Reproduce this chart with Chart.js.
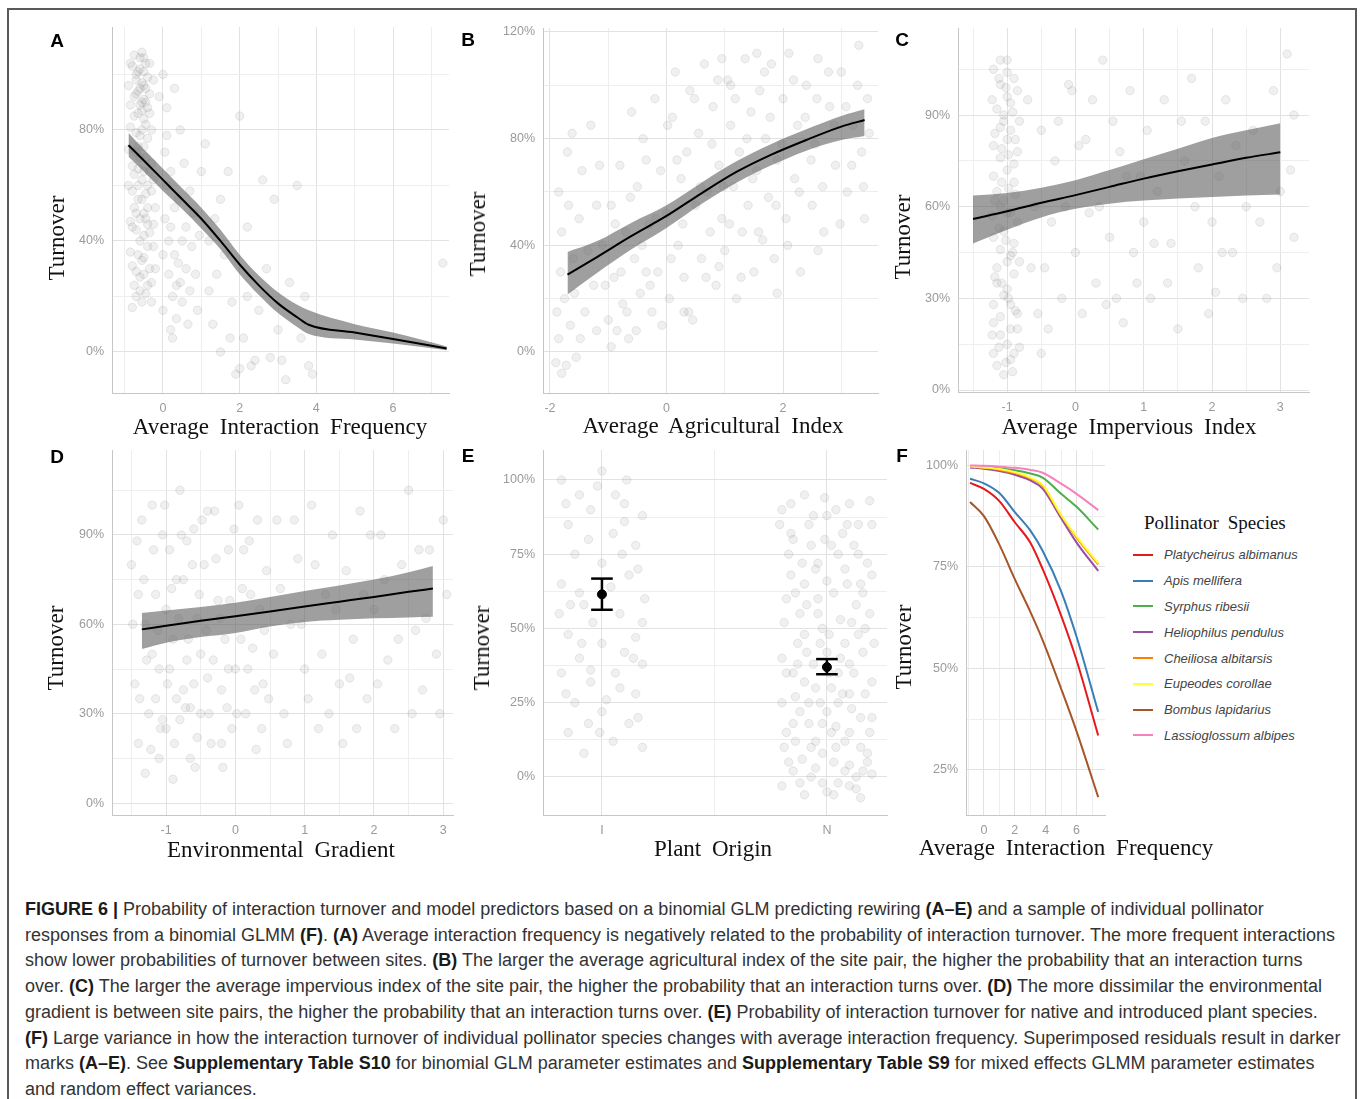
<!DOCTYPE html>
<html>
<head>
<meta charset="utf-8">
<script src="https://cdn.jsdelivr.net/npm/chart.js@4"></script>
<style>
  html, body { margin: 0; padding: 0; background: #fff; }
  body { width: 1360px; height: 1099px; position: relative; overflow: hidden; font-family: "Liberation Sans", Arial, sans-serif; }
  #frame { position: absolute; left: 7px; top: 8px; width: 1346px; height: 1110px; border: 2px solid #5a5a5a; }
  canvas { position: absolute; }
  .lbl { position: absolute; transform: translate(-50%, -50%); white-space: nowrap; }
  .letter { font-family: "Liberation Sans", Arial, sans-serif; font-weight: bold; font-size: 19px; color: #000; }
  .xt { font-family: "Liberation Serif", "Times New Roman", serif; font-size: 23px; color: #111; word-spacing: 5px; }
  .yt { font-family: "Liberation Serif", "Times New Roman", serif; font-size: 23px; color: #111; transform: translate(-50%, -50%) rotate(-90deg); }
  #legendF { position: absolute; left: 1128px; top: 512px; }
  #legendF .ttl { font-family: "Liberation Serif", serif; font-size: 19px; color: #111; word-spacing: 4px; margin-left: 16px; height: 30px; }
  #legendF .row { height: 25.8px; display: flex; align-items: center; }
  #legendF .sw { width: 20px; height: 2px; margin-left: 5px; margin-right: 11px; }
  #legendF .nm { font-style: italic; font-size: 13px; color: #444; }
  #caption { position: absolute; left: 25px; top: 897px; color: #333; line-height: 25.7px; font-size: 16.5px; }
  #caption div { white-space: nowrap; }
  #caption b { color: #1a1a1a; }
</style>
</head>
<body>
<div id="frame"></div>

<canvas id="cA"></canvas>
<canvas id="cB"></canvas>
<canvas id="cC"></canvas>
<canvas id="cD"></canvas>
<canvas id="cE"></canvas>
<canvas id="cF"></canvas>

<div class="lbl letter" style="left:57px;top:41px">A</div>
<div class="lbl letter" style="left:468px;top:40px">B</div>
<div class="lbl letter" style="left:902px;top:40px">C</div>
<div class="lbl letter" style="left:57px;top:457px">D</div>
<div class="lbl letter" style="left:468px;top:456px">E</div>
<div class="lbl letter" style="left:902px;top:456px">F</div>

<div class="lbl yt" style="left:57px;top:238px">Turnover</div>
<div class="lbl yt" style="left:478px;top:234px">Turnover</div>
<div class="lbl yt" style="left:903px;top:237px">Turnover</div>
<div class="lbl yt" style="left:56px;top:648px">Turnover</div>
<div class="lbl yt" style="left:482px;top:648px">Turnover</div>
<div class="lbl yt" style="left:904px;top:647px">Turnover</div>

<div class="lbl xt" style="left:280px;top:427px">Average Interaction Frequency</div>
<div class="lbl xt" style="left:713px;top:426px">Average Agricultural Index</div>
<div class="lbl xt" style="left:1129px;top:427px">Average Impervious Index</div>
<div class="lbl xt" style="left:281px;top:850px">Environmental Gradient</div>
<div class="lbl xt" style="left:713px;top:849px">Plant Origin</div>
<div class="lbl xt" style="left:1066px;top:848px">Average Interaction Frequency</div>

<div id="legendF"></div>

<div id="caption">
  <div><b>FIGURE 6 |</b> Probability of interaction turnover and model predictors based on a binomial GLM predicting rewiring <b>(A–E)</b> and a sample of individual pollinator</div>
  <div id="capLine2">responses from a binomial GLMM <b>(F)</b>. <b>(A)</b> Average interaction frequency is negatively related to the probability of interaction turnover. The more frequent interactions</div>
  <div>show lower probabilities of turnover between sites. <b>(B)</b> The larger the average agricultural index of the site pair, the higher the probability that an interaction turns</div>
  <div>over. <b>(C)</b> The larger the average impervious index of the site pair, the higher the probability that an interaction turns over. <b>(D)</b> The more dissimilar the environmental</div>
  <div>gradient is between site pairs, the higher the probability that an interaction turns over. <b>(E)</b> Probability of interaction turnover for native and introduced plant species.</div>
  <div><b>(F)</b> Large variance in how the interaction turnover of individual pollinator species changes with average interaction frequency. Superimposed residuals result in darker</div>
  <div>marks <b>(A–E)</b>. See <b>Supplementary Table S10</b> for binomial GLM parameter estimates and <b>Supplementary Table S9</b> for mixed effects GLMM parameter estimates</div>
  <div>and random effect variances.</div>
</div>

<script>
// ---- Panel A: average interaction frequency ----
const aFitX = [-0.9, -0.5, 0, 0.5, 1, 1.5, 2, 2.5, 3, 3.5, 3.8, 5, 6, 7.4];
const aFitY = [74.5, 69, 62, 55, 48, 40, 31.5, 24, 17.5, 12.5, 9.8, 7, 4.7, 1.2];
const aFitLo = [70.3, 65, 58, 51.5, 44.5, 37, 28, 20.5, 14, 9, 6.5, 4.5, 3, 0.6];
const aFitHi = [79, 73, 66, 59, 52, 44, 35, 27.5, 21.5, 17, 15, 10, 7, 2];
const aResid = [
  [-0.8,103],[-0.7,98],[-0.6,106],[-0.5,101],[-0.45,95],[-0.55,90],[-0.65,86],[-0.75,92],[-0.4,88],[-0.5,84],
  [-0.6,78],[-0.7,72],[-0.45,70],[-0.35,65],[-0.55,62],[-0.8,58],[-0.65,55],[-0.5,50],[-0.4,46],[-0.7,44],
  [-0.6,40],[-0.85,36],[-0.5,34],[-0.35,30],[-0.6,27],[-0.75,24],[-0.45,21],[-0.55,18],[-0.3,25],[-0.25,38],
  [-0.2,52],[-0.3,80],[-0.35,104],[-0.9,96],[-0.85,81],[-0.55,108],[-0.4,99],[-0.5,74],[-0.65,66],[-0.7,50],
  [-0.45,57],[-0.8,31],[-0.6,95],[-0.5,91],[-0.7,100],[-0.35,86],[-0.6,48],[-0.5,42],[-0.4,38],[-0.75,64],
  [-0.55,97],[-0.45,104],[-0.65,101],[-0.75,85],[-0.4,77],[-0.6,70],[-0.8,45],[-0.3,58],[-0.55,33],[-0.7,20],
  [-0.85,104],[-0.75,107],[-0.65,94],[-0.55,87],[-0.45,82],[-0.35,93],[-0.25,98],[-0.85,89],[-0.7,79],[-0.6,89],
  [-0.5,96],[-0.4,60],[-0.3,68],[-0.8,67],[-0.9,73],[-0.65,74],[-0.55,55],[-0.45,48],[-0.35,43],[-0.25,46],
  [-0.75,52],[-0.85,47],[-0.65,35],[-0.5,28],[-0.4,24],[-0.3,18],[-0.8,16],[-0.7,29],[-0.6,22],[-0.2,30],
  [-0.25,62],[-0.9,60],[-0.6,102],[-0.5,106],[-0.7,93],[-0.45,90],[-0.55,80],[-0.65,60],[-0.5,65],[-0.4,52],
  [0.05,72],[0.1,60],[0.2,45],[0.3,35],[0.15,28],[0.25,20],[0.4,55],[0.5,40],[0.6,30],[0.35,12],
  [0.7,22],[0.8,50],[0.9,15],[0.1,88],[0.3,95],[0.55,68],[0.0,15],[0.2,8],[0.75,38],[0.45,25],
  [-0.1,92],[0.0,100],[0.1,78],[0.2,65],[0.3,52],[0.15,40],[0.4,32],[0.5,18],[0.6,45],[0.7,58],
  [0.85,28],[0.95,42],[0.0,35],[0.25,5],[0.65,10],[0.45,80],[0.05,48],[0.35,24],
  [1.1,75],[1.2,40],[1.4,28],[1.5,55],[1.7,65],[1.8,18],[2.0,85],[2.1,5],[2.3,-5],[2.5,15],
  [2.6,62],[2.8,-2],[1.3,10],[2.2,45],[1.9,-8],[2.7,30],[2.4,-3],[3.0,8],
  [1.0,65],[1.2,22],[1.35,48],[1.6,35],[1.75,5],[2.2,20],[2.9,55],[3.1,-3],[2.0,-6],[1.5,0],
  [3.2,-10],[3.3,25],[3.5,60],[3.7,20],[3.8,-5],[3.9,-8],[3.6,5],[7.3,32]
];
const aXGrid = [-1, 0, 1, 2, 3, 4, 5, 6, 7];
const aXLabels = [0, 2, 4, 6];
const aYGrid = [0, 20, 40, 60, 80, 100];
const aYLabels = [0, 40, 80];

// ---- Panel B: average agricultural index ----
const bFitX = [-1.7, -1.2, -0.6, 0, 0.6, 1.2, 1.8, 2.4, 3, 3.4];
const bFitY = [29, 35.5, 43.5, 51, 59.5, 67.5, 74, 79.5, 84.5, 87];
const bFitLo = [21.5, 29.5, 38.5, 46.5, 55.5, 63.5, 70, 75.5, 79.5, 81];
const bFitHi = [37.5, 41.5, 48.5, 55, 63.5, 71.5, 78, 83.5, 88.5, 91];
const bResid = [
  [-1.9,-4],[-1.85,5],[-1.8,-8],[-1.75,20],[-1.8,45],[-1.85,60],[-1.7,75],[-1.65,10],[-1.6,35],[-1.55,-2],
  [-1.5,50],[-1.45,68],[-1.4,15],[-1.3,85],[-1.25,25],[-1.1,40],[-1.0,12],[-0.95,55],[-0.9,28],[-0.85,8],
  [-0.8,70],[-0.75,18],[-0.7,45],[-0.6,90],[-0.55,35],[-0.5,62],[-0.45,22],[-0.4,80],[-0.3,48],[-0.25,15],
  [-0.2,95],[-0.15,30],[-0.1,68],[0.0,52],[0.05,20],[0.1,88],[0.15,105],[0.2,40],[0.25,65],[0.3,28],
  [0.35,75],[0.4,98],[0.45,12],[0.5,55],[0.55,82],[0.6,35],[0.65,108],[0.7,60],[0.75,45],[0.8,92],
  [0.85,25],[0.9,70],[0.95,50],[1.0,38],[1.05,102],[1.1,85],[1.15,62],[1.2,20],[1.25,75],[1.3,45],
  [1.35,110],[1.4,55],[1.45,90],[1.5,30],[1.55,68],[1.6,98],[1.65,42],[1.7,80],[1.75,58],[1.8,108],
  [1.85,35],[1.9,72],[2.0,95],[2.05,50],[2.1,112],[2.2,65],[2.25,85],[2.3,30],[2.4,100],[2.5,55],
  [2.55,78],[2.6,110],[2.7,45],[2.8,92],[2.9,70],[3.0,105],[3.1,60],[3.2,85],[3.3,115],[3.35,75],
  [3.4,50],[3.45,95],[-1.2,55],[-0.65,5],[0.3,15],[0.9,32],[1.1,100],[1.9,22],[2.6,38],[-0.35,30],
  [-1.88,15],[-1.82,30],[-1.72,-5],[-1.68,55],[-1.62,82],[-1.58,22],[-1.48,5],[-1.35,38],[-1.2,8],[-1.15,70],
  [-1.05,25],[-0.95,2],[-0.88,48],[-0.78,30],[-0.68,15],[-0.62,58],[-0.52,8],[-0.42,40],[-0.35,72],[-0.28,25],
  [-0.18,50],[-0.08,10],[0.02,85],[0.08,35],[0.18,72],[0.28,48],[0.38,15],[0.48,95],[0.58,62],[0.68,28],
  [0.78,78],[0.88,102],[0.98,62],[1.08,48],[1.18,95],[1.28,28],[1.38,80],[1.48,65],[1.58,45],[1.68,105],
  [1.78,88],[1.88,55],[1.98,78],[2.08,40],[2.18,102],[2.28,60],[2.38,88],[2.48,72],[2.58,95],[2.68,62],
  [2.78,105],[2.88,85],[2.98,48],[3.08,92],[3.18,70],[3.28,100],[3.38,62],[3.48,82],[0.95,110],[1.55,112]
];
const bXGrid = [-2, -1, 0, 1, 2, 3];
const bXLabels = [-2, 0, 2];
const bYGrid = [0, 20, 40, 60, 80, 100, 120];
const bYLabels = [0, 40, 80, 120];

// ---- Panel C: average impervious index ----
const cFitX = [-1.5, -1, -0.5, 0, 0.5, 1, 1.5, 2, 2.5, 3];
const cFitY = [56, 58.5, 61.3, 63.8, 66.5, 69.2, 71.6, 73.8, 76, 77.8];
const cFitLo = [48, 52.5, 56.5, 59.3, 61, 62, 62.7, 63.2, 63.7, 64];
const cFitHi = [63.7, 64.5, 66.2, 68.7, 72, 75.5, 79, 82.5, 85, 87.3];
const cResid = [
  [-1.2,105],[-1.1,100],[-1.0,96],[-0.9,102],[-1.15,92],[-1.05,88],[-0.95,85],[-0.85,98],[-1.2,80],[-1.1,76],
  [-1.0,72],[-0.9,68],[-1.15,65],[-1.05,62],[-0.95,58],[-0.85,55],[-1.2,50],[-1.1,46],[-1.0,42],[-0.9,38],
  [-1.15,35],[-1.05,31],[-0.95,28],[-0.85,25],[-1.2,22],[-1.1,18],[-1.0,15],[-0.9,12],[-1.15,8],[-1.05,5],
  [-0.95,94],[-1.0,82],[-0.85,78],[-1.2,70],[-1.1,60],[-0.9,48],[-1.0,33],[-0.85,20],[-1.15,40],[-0.95,10],
  [-1.05,90],[-1.2,28],[-1.0,104],[-1.1,86],[-0.9,74],[-1.05,52],[-0.95,44],[-1.1,24],[-1.0,58],[-1.2,12],
  [-1.22,95],[-1.12,102],[-1.02,99],[-0.92,91],[-0.82,88],[-1.18,84],[-1.08,79],[-0.98,77],[-0.88,64],[-1.22,57],
  [-1.12,53],[-1.02,49],[-0.92,45],[-0.82,42],[-1.18,37],[-1.08,35],[-0.98,30],[-0.88,26],[-1.22,18],[-1.12,14],
  [-1.02,9],[-0.92,6],[-0.82,14],[-1.18,62],[-1.08,68],[-0.98,66],[-0.88,82],[-1.0,108],[-1.1,108],[-0.95,20],
  [-0.7,95],[-0.6,60],[-0.5,85],[-0.45,40],[-0.4,20],[-0.5,12],[-0.3,75],[-0.2,30],[-0.1,100],[0.0,45],
  [-0.05,98],[0.1,25],[0.15,82],[0.2,58],[0.3,35],[0.4,108],[0.5,50],[0.55,88],[0.6,30],[0.7,22],
  [0.75,70],[0.8,98],[0.85,45],[0.9,35],[1.0,55],[1.05,85],[1.1,30],[1.2,65],[1.3,95],[1.4,48],
  [1.5,20],[1.6,75],[1.7,102],[1.8,40],[1.9,88],[2.0,55],[2.05,32],[2.1,70],[2.2,95],[2.3,45],
  [2.5,60],[2.6,85],[2.8,30],[2.9,98],[3.0,65],[3.1,110],[3.15,72],[3.2,50],
  [-0.65,40],[-0.55,25],[-0.35,55],[-0.25,88],[-0.15,60],[0.05,80],[0.25,95],[0.35,60],[0.45,28],[0.65,78],
  [0.95,70],[1.15,48],[1.35,35],[1.55,88],[1.75,60],[1.95,25],[2.15,45],[2.35,80],[2.45,30],[2.7,55],
  [2.95,40],[3.2,90]
];
const cXGrid = [-1.5, -1, -0.5, 0, 0.5, 1, 1.5, 2, 2.5, 3];
const cXLabels = [-1, 0, 1, 2, 3];
const cYGrid = [0, 15, 30, 45, 60, 75, 90, 105];
const cYLabels = [0, 30, 60, 90];

// ---- Panel D: environmental gradient ----
const dFitX = [-1.35, -1, -0.5, 0, 0.5, 1, 1.5, 2, 2.5, 2.85];
const dFitY = [58.3, 59.5, 61.2, 62.7, 64.3, 66, 67.6, 69.2, 70.9, 72];
const dFitLo = [51.7, 53.8, 55.7, 57.1, 59.3, 60.8, 61.5, 62, 62.3, 62.5];
const dFitHi = [63.8, 64.6, 65.8, 67.2, 69.2, 71.2, 73, 75, 77.5, 79.6];
const dResid = [
  [-1.5,80],[-1.45,40],[-1.4,20],[-1.35,95],[-1.3,60],[-1.25,30],[-1.2,100],[-1.15,70],[-1.1,45],[-1.05,90],
  [-1.0,25],[-0.95,85],[-0.9,55],[-0.85,35],[-0.8,105],[-0.75,75],[-0.7,48],[-0.65,15],[-0.6,92],[-0.55,62],
  [-0.5,30],[-0.45,80],[-0.4,42],[-0.35,20],[-0.3,98],[-0.25,68],[-0.2,38],[-0.15,55],[-0.1,85],[-0.05,25],
  [0.0,45],[0.05,100],[0.1,72],[0.15,30],[0.2,88],[0.25,52],[0.3,18],[0.35,65],[0.4,40],[0.45,78],
  [-1.3,10],[-1.1,15],[-0.9,8],[-1.2,50],[-1.0,65],[-0.8,28],[-0.6,40],[-0.4,98],[-0.5,50],[-0.7,88],
  [-1.4,70],[-0.2,20],[-0.1,45],[-1.15,35],[-0.85,75],[-1.05,28],[-0.75,38],[-0.95,45],[-0.65,32],[-0.55,22],
  [-1.48,60],[-1.42,88],[-1.38,35],[-1.32,75],[-1.28,48],[-1.22,18],[-1.18,85],[-1.12,58],[-1.08,25],[-1.02,100],
  [-0.98,40],[-0.92,72],[-0.88,20],[-0.82,62],[-0.78,90],[-0.72,32],[-0.68,55],[-0.62,80],[-0.58,12],[-0.52,70],
  [-0.48,95],[-0.42,58],[-0.38,30],[-0.32,48],[-0.28,82],[-0.22,62],[-0.18,12],[-0.12,32],[-0.08,68],[-0.02,92],
  [0.02,30],[0.08,55],[0.12,85],[0.18,45],[0.22,70],[0.28,38],[0.32,95],[0.38,25],[0.42,58],[0.48,35],
  [0.6,95],[0.7,30],[0.8,60],[0.9,82],[1.0,45],[1.1,100],[1.2,25],[1.3,70],[1.4,90],[1.5,40],
  [1.55,20],[1.6,78],[1.7,55],[1.8,98],[1.9,35],[2.0,65],[2.1,90],[2.2,48],[2.3,25],[2.4,80],
  [2.5,105],[2.6,58],[2.7,38],[2.8,85],[2.9,50],[3.0,95],
  [0.55,50],[0.65,72],[0.75,20],[0.85,95],[0.95,60],[1.05,35],[1.15,80],[1.25,50],[1.35,30],[1.45,65],
  [1.65,42],[1.75,25],[1.85,70],[1.95,90],[2.05,40],[2.15,75],[2.35,55],[2.55,30],[2.65,85],[2.75,62],
  [2.95,30],[3.05,70]
];
const dXGrid = [-1.5, -1, -0.5, 0, 0.5, 1, 1.5, 2, 2.5, 3];
const dXLabels = [-1, 0, 1, 2, 3];
const dYGrid = [0, 15, 30, 45, 60, 75, 90, 105];
const dYLabels = [0, 30, 60, 90];

// ---- Panel E: plant origin ----
const eCats = ['I', 'N'];
const eMean = [61.5, 37];
const eLow = [56.3, 34.6];
const eHigh = [66.8, 39.7];
const eResid = [
  [-0.18,100],[-0.1,95],[0.0,103],[0.1,92],[0.18,88],[-0.15,85],[-0.05,90],[0.05,82],[0.15,78],[-0.12,75],
  [0.0,72],[0.12,68],[-0.18,65],[-0.08,58],[0.08,55],[0.18,52],[-0.15,48],[0.0,45],[0.1,42],[-0.1,40],
  [0.18,38],[-0.18,35],[-0.05,32],[0.08,30],[0.15,28],[-0.12,25],[0.0,22],[0.12,18],[-0.15,15],[0.05,12],
  [-0.08,8],[0.18,10],[-0.02,98],[0.1,86],[-0.1,62],[0.15,47],[-0.05,36],[0.02,26],
  [-0.16,92],[-0.06,80],[0.06,95],[0.16,70],[-0.14,58],[-0.04,52],[0.04,64],[0.14,40],[-0.16,28],[-0.06,18],
  [0.06,35],[0.16,20],[-0.09,45],[0.09,75],[0.19,60],[-0.19,55],[-0.01,15],[0.11,100],
  [0.8,90],[0.85,80],[0.9,95],[0.95,70],[1.0,88],[1.05,75],[1.1,92],[1.15,65],[1.2,85],[0.82,60],
  [0.88,55],[0.93,78],[0.98,50],[1.03,62],[1.08,45],[1.13,58],[1.18,72],[0.8,40],[0.85,35],[0.9,48],
  [0.95,30],[1.0,42],[1.05,25],[1.1,38],[1.15,20],[1.2,32],[0.82,15],[0.88,22],[0.93,10],[0.98,18],
  [1.03,5],[1.08,12],[1.13,0],[1.18,8],[0.8,-3],[0.85,2],[0.9,-6],[0.95,3],[1.0,-5],[1.05,-2],
  [1.1,4],[1.15,-7],[1.2,1],[0.84,68],[0.92,85],[1.0,66],[1.07,82],[1.14,48],[0.86,27],[0.94,38],
  [1.02,30],[1.1,15],[1.17,28],[0.83,75],[0.91,58],[0.99,94],[1.06,53],[1.12,78],[1.19,55],[0.81,10],
  [0.89,6],[0.97,25],[1.04,17],[1.11,23],[1.16,42],[0.87,45],[0.96,60],[1.01,35],[1.09,65],[1.19,15],
  [0.79,85],[0.84,92],[0.89,72],[0.94,88],[0.99,80],[1.04,90],[1.09,85],[1.14,75],[1.19,93],[0.81,52],
  [0.86,62],[0.91,42],[0.96,55],[1.01,48],[1.06,40],[1.11,52],[1.16,62],[1.21,45],[0.8,25],[0.85,18],
  [0.9,32],[0.95,12],[1.0,22],[1.05,35],[1.1,28],[1.15,10],[1.2,20],[0.83,5],[0.88,-2],[0.93,0],
  [0.98,8],[1.03,-6],[1.08,2],[1.13,-4],[1.18,5],[0.82,35],[0.87,38],[0.92,25],[0.97,45],[1.02,15],
  [1.07,28],[1.12,35],[1.17,50],[0.84,82],[0.9,65],[0.96,72],[1.02,78],[1.08,70],[1.14,85],[1.2,68],
  [0.86,12],[0.92,18],[0.98,-2],[1.04,10],[1.1,-3],[1.16,2]
];
const eXGrid = [0, 0.5, 1];
const eXLabels = [0, 1];
const eYGrid = [0, 12.5, 25, 37.5, 50, 62.5, 75, 87.5, 100];
const eYLabels = [0, 25, 50, 75, 100];

// ---- Panel F: individual pollinator species ----
const fX = [-0.9, 0, 1, 2, 3, 3.8, 5, 6, 7.4];
const fSpecies = ['Platycheirus albimanus', 'Apis mellifera', 'Syrphus ribesii', 'Heliophilus pendulus',
  'Cheiliosa albitarsis', 'Eupeodes corollae', 'Bombus lapidarius', 'Lassioglossum albipes'];
const fColors = ['#E41A1C', '#377EB8', '#4DAF4A', '#984EA3', '#FF7F00', '#FFFF33', '#A65628', '#F781BF'];
const fPlatycheirus = [95.7, 94.2, 91.2, 86, 81, 74.5, 63, 52, 33.5];
const fApis = [96.7, 95.6, 93.2, 88.5, 84, 79, 69, 57.8, 39.3];
const fSyrphus = [99.8, 99.6, 99.3, 98.8, 98, 97, 93, 89.8, 84.2];
const fHeliophilus = [99.5, 99.2, 98.6, 97.7, 96.3, 94.3, 87, 81, 74];
const fCheiliosa = [99.7, 99.4, 98.9, 98.1, 96.8, 95, 87.6, 82.2, 75.6];
const fEupeodes = [99.8, 99.5, 99.1, 98.3, 97, 95.2, 87.8, 82.5, 75.9];
const fBombus = [91, 87.5, 80.5, 72, 64, 57, 45, 34.5, 18.3];
const fLassioglossum = [100, 99.9, 99.7, 99.4, 98.9, 98.2, 95.5, 93, 89];
const fSeries = [fPlatycheirus, fApis, fSyrphus, fHeliophilus, fCheiliosa, fEupeodes, fBombus, fLassioglossum];
const fXGrid = [-1, 0, 1, 2, 3, 4, 5, 6, 7];
const fXLabels = [0, 2, 4, 6];
const fYGrid = [25, 37.5, 50, 62.5, 75, 87.5, 100];
const fYLabels = [25, 50, 75, 100];

// layout constants shared by all panels
const Y_AXIS_W = 70, X_AXIS_H = 30, PAD_TOP = 20, PAD_RIGHT = 15;
const pct = v => v + '%';

function scale(min, max, gridVals, labelVals, fmt, isY) {
  return {
    type: 'linear', min: min, max: max,
    afterBuildTicks: s => { s.ticks = gridVals.map(v => ({ value: v })); },
    afterFit: s => { if (isY) s.width = Y_AXIS_W; else s.height = X_AXIS_H; },
    ticks: {
      autoSkip: false, maxRotation: 0, minRotation: 0, padding: 8, color: '#9a9a9a',
      font: { family: '"Liberation Sans", Arial, sans-serif', size: 12.5 },
      callback: v => labelVals.includes(v) ? fmt(v) : ''
    },
    grid: {
      drawTicks: false,
      color: c => (c.tick && labelVals.includes(c.tick.value)) ? '#e2e2e2' : '#eeeeee',
      lineWidth: 1
    },
    border: { display: true, color: '#c6c6c6', width: 1 }
  };
}

function pts(xs, ys) { return xs.map((x, i) => ({ x: x, y: ys[i] })); }

function residSet(list) {
  return {
    data: list.map(p => ({ x: p[0], y: p[1] })),
    pointRadius: 4.2, pointBackgroundColor: 'rgba(120,120,120,0.11)',
    pointBorderColor: 'rgba(110,110,110,0.14)', pointBorderWidth: 1, showLine: false, order: 3
  };
}

function fitSets(xs, ys, lo, hi) {
  return [
    { data: pts(xs, hi), showLine: true, borderWidth: 0, pointRadius: 0, fill: false, cubicInterpolationMode: 'monotone', order: 2 },
    { data: pts(xs, lo), showLine: true, borderWidth: 0, pointRadius: 0, fill: '-1',
      backgroundColor: 'rgba(95,95,95,0.6)', cubicInterpolationMode: 'monotone', order: 1 },
    { data: pts(xs, ys), showLine: true, borderColor: '#000', borderWidth: 2, pointRadius: 0,
      cubicInterpolationMode: 'monotone', order: 0 }
  ];
}

function panel(id, rect, datasets, xs, ys) {
  const cv = document.getElementById(id);
  const [pl, pt, pr, pb] = rect;
  cv.width = pr - pl + Y_AXIS_W + PAD_RIGHT;
  cv.height = pb - pt + PAD_TOP + X_AXIS_H;
  cv.style.left = (pl - Y_AXIS_W) + 'px';
  cv.style.top = (pt - PAD_TOP) + 'px';
  return new Chart(cv, {
    type: 'scatter',
    data: { datasets: datasets },
    options: {
      responsive: false, animation: false, devicePixelRatio: 1,
      layout: { padding: { top: PAD_TOP, right: PAD_RIGHT, left: 0, bottom: 0 } },
      plugins: { legend: { display: false }, tooltip: { enabled: false } },
      scales: { x: xs, y: ys }
    }
  });
}

panel('cA', [112, 27, 449, 393],
  [residSet(aResid), ...fitSets(aFitX, aFitY, aFitLo, aFitHi)],
  scale(-1.33, 7.46, aXGrid, aXLabels, v => String(v), false),
  scale(-14.8, 117.1, aYGrid, aYLabels, pct, true));

panel('cB', [543, 28, 878, 393],
  [residSet(bResid), ...fitSets(bFitX, bFitY, bFitLo, bFitHi)],
  scale(-2.12, 3.63, bXGrid, bXLabels, v => String(v), false),
  scale(-15.4, 121.5, bYGrid, bYLabels, pct, true));

panel('cC', [958, 28, 1309, 392],
  [residSet(cResid), ...fitSets(cFitX, cFitY, cFitLo, cFitHi)],
  scale(-1.72, 3.42, cXGrid, cXLabels, v => String(v), false),
  scale(-0.65, 118.5, cYGrid, cYLabels, pct, true));

panel('cD', [112, 450, 453, 815],
  [residSet(dResid), ...fitSets(dFitX, dFitY, dFitLo, dFitHi)],
  scale(-1.78, 3.14, dXGrid, dXLabels, v => String(v), false),
  scale(-4.0, 118.5, dYGrid, dYLabels, pct, true));

// error bars for panel E, built from the mean / interval arrays
const CAP = 0.048;
const eSets = [residSet(eResid)];
eCats.forEach((c, i) => {
  const bar = { showLine: true, borderColor: '#000', borderWidth: 2.5, pointRadius: 0, order: 0 };
  eSets.push({ ...bar, data: [{ x: i, y: eLow[i] }, { x: i, y: eHigh[i] }] });
  eSets.push({ ...bar, data: [{ x: i - CAP, y: eHigh[i] }, { x: i + CAP, y: eHigh[i] }] });
  eSets.push({ ...bar, data: [{ x: i - CAP, y: eLow[i] }, { x: i + CAP, y: eLow[i] }] });
});
eSets.push({ data: eCats.map((c, i) => ({ x: i, y: eMean[i] })), pointRadius: 4.5,
  pointBackgroundColor: '#000', pointBorderColor: '#000', showLine: false, order: 0 });

panel('cE', [543, 450, 887, 815], eSets,
  scale(-0.262, 1.267, eXGrid, eXLabels, v => eCats[v], false),
  scale(-12.8, 110.1, eYGrid, eYLabels, pct, true));

panel('cF', [966, 450, 1105, 815],
  fSeries.map((ys, i) => ({ data: pts(fX, ys), showLine: true, borderColor: fColors[i], borderWidth: 2,
    pointRadius: 0, cubicInterpolationMode: 'monotone', order: fSeries.length - i })),
  scale(-1.16, 7.84, fXGrid, fXLabels, v => String(v), false),
  scale(13.9, 103.8, fYGrid, fYLabels, pct, true));

// legend for panel F
const lg = document.getElementById('legendF');
lg.innerHTML = '<div class="ttl">Pollinator Species</div>' +
  fSpecies.map((n, i) => `<div class="row"><span class="sw" style="background:${fColors[i]}"></span><span class="nm">${n}</span></div>`).join('');

// fit caption width to the reference line length
const cap = document.getElementById('caption');
const l2 = document.getElementById('capLine2');
l2.style.display = 'inline-block';
const w = l2.getBoundingClientRect().width;
cap.style.fontSize = (16.5 * 1310 / w).toFixed(2) + 'px';
l2.style.display = 'block';
</script>
</body>
</html>
